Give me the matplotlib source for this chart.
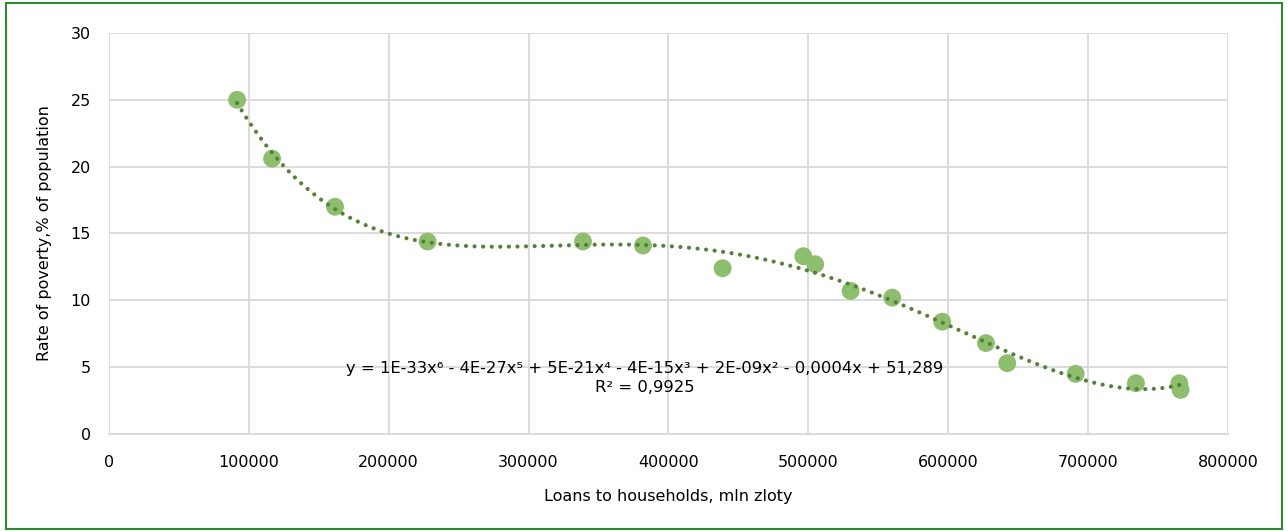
import numpy as np
import matplotlib.pyplot as plt

# loans to households (mln zloty) vs poverty rate (% of population)
loans = [91600, 116600, 161600, 227800, 338900, 381800, 438700, 496400, 504900,
         530200, 560000, 595700, 627000, 642200, 691100, 734200, 765200, 766100]
poverty = [25.0, 20.6, 17.0, 14.4, 14.4, 14.1, 12.4, 13.3, 12.7,
           10.7, 10.2, 8.4, 6.8, 5.3, 4.5, 3.8, 3.8, 3.3]

x_ticks = [0, 100000, 200000, 300000, 400000, 500000, 600000, 700000, 800000]
y_ticks = [0, 5, 10, 15, 20, 25, 30]

eq_text = ("y = 1E-33x\u2076 - 4E-27x\u2075 + 5E-21x\u2074 - 4E-15x\u00b3 + 2E-09x\u00b2 - 0,0004x + 51,289\n"
           "R\u00b2 = 0,9925")

plt.rcParams['font.family'] = ['DejaVu Sans']

fig = plt.figure(figsize=(12.88, 5.31), dpi=100)
ax = fig.add_axes([0.0846, 0.1827, 0.8688, 0.7552])

# polynomial trend (degree 6), scaled x to keep the fit well conditioned
xs = np.array(loans) / 1e5
coef = np.polyfit(xs, poverty, 6)
xx = np.linspace(min(loans), max(loans), 400)
yy = np.polyval(coef, xx / 1e5)

ax.scatter(loans, poverty, s=165, color='#8CBE6D', edgecolors='none', zorder=3)
ax.plot(xx, yy, color='#538135', lw=3.0, linestyle=(0, (0.01, 2.05)),
        dash_capstyle='round', zorder=4)

ax.set_xlim(0, 800000)
ax.set_ylim(0, 30)
ax.set_xticks(x_ticks)
ax.set_yticks(y_ticks)
ax.set_xticklabels([str(v) for v in x_ticks])
ax.grid(True, color='#D9D9D9', lw=1.3, zorder=0)
ax.set_axisbelow(True)
for side in ['top', 'right', 'left']:
    ax.spines[side].set_visible(False)
ax.spines['bottom'].set_color('#D9D9D9')
ax.spines['bottom'].set_linewidth(1.3)
ax.tick_params(axis='both', length=0, labelsize=11.5, colors='black')
ax.tick_params(axis='x', pad=15)
ax.tick_params(axis='y', pad=13)

ax.set_xlabel('Loans to households, mln zloty', fontsize=11.5, labelpad=14)
ax.set_ylabel('Rate of poverty,% of population', fontsize=11.5, labelpad=13)

ax.text(0.479, 0.14, eq_text, transform=ax.transAxes, ha='center', va='center',
        multialignment='center', fontsize=11.8, linespacing=1.35, zorder=5)

# chart border
fig.add_artist(plt.Rectangle((0.005, 0.004), 0.99, 0.99, transform=fig.transFigure,
                             fill=False, edgecolor='#2E8B2E', lw=1.5))

fig.savefig('out.png', dpi=100)
